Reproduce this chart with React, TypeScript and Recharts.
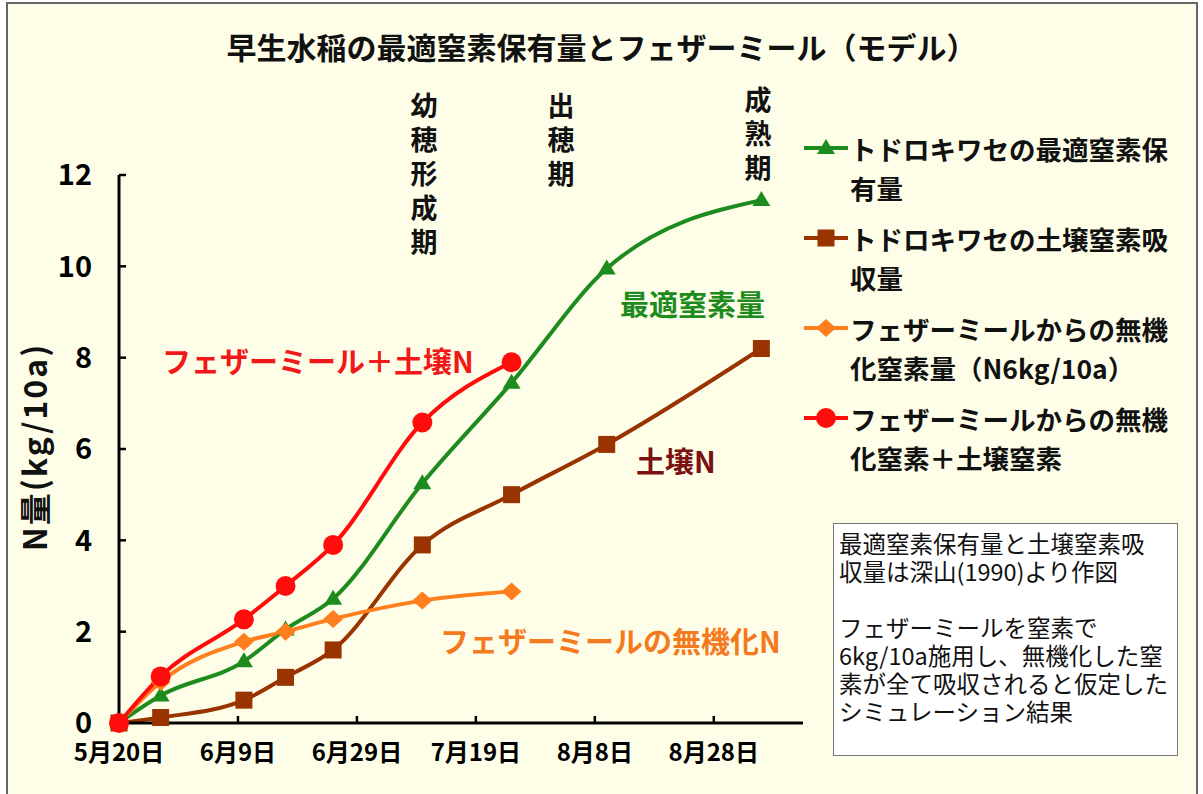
import { LineChart, Line, XAxis, YAxis, Legend } from 'recharts'

const FONT = '"Noto Sans CJK JP", "Noto Sans", sans-serif'

// days counted from 5月20日
const days = [0, 7, 21, 28, 36, 51, 66, 82, 108]
const optimalN = [0, 0.6, 1.35, 2.05, 2.72, 5.25, 7.45, 9.95, 11.45]
const soilN = [0, 0.12, 0.5, 1.0, 1.6, 3.9, 5.0, 6.1, 8.2]
const featherN = [0, 0.9, 1.78, 2.0, 2.28, 2.68, 2.88, null, null]
const featherSoilN = [0, 1.02, 2.27, 3.0, 3.9, 6.58, 7.9, null, null]

const xTicks = [0, 20, 40, 60, 80, 100]
const xTickLabels = ['5月20日', '6月9日', '6月29日', '7月19日', '8月8日', '8月28日']
const yTicks = [0, 2, 4, 6, 8, 10, 12]

const seriesKeys = ['optimal', 'soil', 'feather', 'featherSoil']
const seriesLegend = [
    ['トドロキワセの最適窒素保', '有量'],
    ['トドロキワセの土壌窒素吸', '収量'],
    ['フェザーミールからの無機', '化窒素量（N6kg/10a）'],
    ['フェザーミールからの無機', '化窒素＋土壌窒素'],
]
const stageLabels = ['幼穂形成期', '出穂期', '成熟期']
const curveLabels = ['最適窒素量', '土壌N', 'フェザーミールの無機化N', 'フェザーミール＋土壌N']
const noteLines = [
    '最適窒素保有量と土壌窒素吸',
    '収量は深山(1990)より作図',
    '',
    'フェザーミールを窒素で',
    '6kg/10a施用し、無機化した窒',
    '素が全て吸収されると仮定した',
    'シミュレーション結果',
]

const COLORS = ['#1E8B1E', '#993300', '#FF7F1E', '#FF0D0D']
const SHAPES = ['triangle', 'square', 'diamond', 'circle']

const data = days.map((d, i) => ({
    day: d,
    optimal: optimalN[i],
    soil: soilN[i],
    feather: featherN[i],
    featherSoil: featherSoilN[i],
}))

function markerPath(shape: string, cx: number, cy: number) {
    if (shape === 'triangle') return `M${cx},${cy - 9}L${cx + 9},${cy + 6}L${cx - 9},${cy + 6}Z`
    if (shape === 'square') return `M${cx - 8.5},${cy - 8.5}h17v17h-17Z`
    if (shape === 'diamond') return `M${cx},${cy - 9}L${cx + 10},${cy}L${cx},${cy + 9}L${cx - 10},${cy}Z`
    return ''
}

function Marker({ shape, color, cx, cy }: { shape: string; color: string; cx: number; cy: number }) {
    if (shape === 'circle') return <circle cx={cx} cy={cy} r={10} fill={color} />
    return <path d={markerPath(shape, cx, cy)} fill={color} />
}

function renderLegend() {
    return (
        <div style={{ fontFamily: FONT }}>
            {seriesLegend.map((lines, i) => (
                <div key={i} style={{ position: 'relative', height: 90 }}>
                    <svg width={46} height={38} style={{ position: 'absolute', left: 0, top: 0 }}>
                        <line x1={1} y1={19} x2={45} y2={19} stroke={COLORS[i]} strokeWidth={4} />
                        <Marker shape={SHAPES[i]} color={COLORS[i]} cx={23} cy={19} />
                    </svg>
                    <div style={{ position: 'absolute', left: 47, top: 0, fontSize: 26.5, fontWeight: 700, lineHeight: '39px', color: '#111', whiteSpace: 'nowrap' }}>
                        {lines.map((t, j) => <div key={j}>{t}</div>)}
                    </div>
                </div>
            ))}
        </div>
    )
}

export default function App() {
    const stagePos = [
        { x: 424, y: 105 },
        { x: 561, y: 105 },
        { x: 758, y: 99 },
    ]
    const curvePos = [
        { x: 620, y: 303, color: '#1E8B1E' },
        { x: 636, y: 460, color: '#7B1111' },
        { x: 440, y: 640, color: '#F47A1F' },
        { x: 162, y: 360, color: '#F01818' },
    ]

    return (
        <div style={{ position: 'absolute', left: 0, top: 0, width: 1203, height: 794, background: '#fff', overflow: 'hidden', fontFamily: FONT }}>
            <div style={{ position: 'absolute', left: 6, top: 2, width: 1188, height: 820, background: '#FEFEE8', border: '2px solid #666' }} />

            <div style={{ position: 'absolute', left: 0, top: 0 }}>
                <LineChart width={1203} height={794} data={data} margin={{ top: 175, right: 400, bottom: 21, left: 59 }}>
                    <XAxis
                        type="number"
                        dataKey="day"
                        domain={[0, 115]}
                        ticks={xTicks}
                        interval={0}
                        tickFormatter={(v: number) => xTickLabels[xTicks.indexOf(v)]}
                        axisLine={{ stroke: '#000', strokeWidth: 3 }}
                        tickLine={{ stroke: '#000', strokeWidth: 2.5 }}
                        tickSize={-7}
                        tickMargin={28}
                        height={50}
                        tick={{ fill: '#000', fontSize: 24, fontWeight: 700, fontFamily: FONT }}
                    />
                    <YAxis
                        type="number"
                        domain={[0, 12]}
                        ticks={yTicks}
                        interval={0}
                        width={60}
                        axisLine={{ stroke: '#000', strokeWidth: 3 }}
                        tickLine={{ stroke: '#000', strokeWidth: 2.5 }}
                        tickSize={-7}
                        tickMargin={34}
                        tick={{ fill: '#000', fontSize: 29, fontWeight: 700, fontFamily: FONT }}
                    />
                    <Legend layout="vertical" align="center" verticalAlign="middle" wrapperStyle={{ left: 803, top: 129, width: 390 }} content={renderLegend} />
                    {seriesKeys.map((k, i) => (
                        <Line
                            key={k}
                            dataKey={k}
                            type="monotone"
                            stroke={COLORS[i]}
                            strokeWidth={4}
                            isAnimationActive={false}
                            activeDot={false}
                            dot={(p: any) => (p.cy == null || p.value == null)
                                ? <g key={p.index} />
                                : <Marker key={p.index} shape={SHAPES[i]} color={COLORS[i]} cx={p.cx} cy={p.cy} />}
                        />
                    ))}
                </LineChart>
            </div>

            <div style={{ position: 'absolute', left: 0, width: 1203, top: 28, textAlign: 'center', fontSize: 30, fontWeight: 700, lineHeight: '36px', color: '#111' }}>
                早生水稲の最適窒素保有量とフェザーミール（モデル）
            </div>

            {stageLabels.map((s, i) => (
                <div key={s} style={{ position: 'absolute', left: stagePos[i].x - 20, top: stagePos[i].y - 17, width: 40, textAlign: 'center', fontSize: 27, fontWeight: 700, lineHeight: '34px', color: '#111' }}>
                    {s.split('').map((c, j) => <div key={j}>{c}</div>)}
                </div>
            ))}

            {curveLabels.map((s, i) => (
                <div key={s} style={{ position: 'absolute', left: curvePos[i].x, top: curvePos[i].y - 18, fontSize: 29, fontWeight: 700, lineHeight: '36px', color: curvePos[i].color, whiteSpace: 'nowrap' }}>
                    {s}
                </div>
            ))}

            <div style={{ position: 'absolute', left: 33, top: 447, transform: 'translate(-50%, -50%) rotate(-90deg)', fontSize: 32, fontWeight: 700, letterSpacing: 2, color: '#111', whiteSpace: 'nowrap' }}>
                N量(kg/10a)
            </div>

            <div style={{ position: 'absolute', left: 833, top: 523, width: 345, height: 233, background: '#fff', border: '1.5px solid #777', padding: '5px 0 0 5px', boxSizing: 'border-box', fontSize: 23.5, lineHeight: '28px', color: '#111', whiteSpace: 'nowrap' }}>
                {noteLines.map((t, j) => <div key={j} style={{ height: 28 }}>{t}</div>)}
            </div>
        </div>
    )
}
